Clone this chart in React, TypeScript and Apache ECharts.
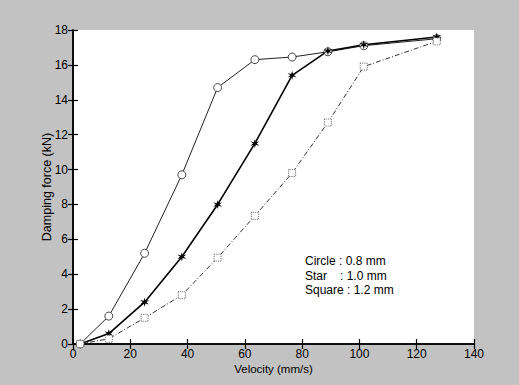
import React, { useEffect, useRef } from "react";
import * as echarts from "echarts";

const velocity = [2.5, 12.5, 25, 38, 50.5, 63.5, 76.5, 89, 101.5, 127];
const circleForce = [0, 1.6, 5.2, 9.7, 14.7, 16.3, 16.45, 16.75, 17.1, 17.5];
const starForce = [0, 0.6, 2.4, 5.0, 8.0, 11.5, 15.4, 16.8, 17.15, 17.6];
const squareForce = [0, 0.3, 1.5, 2.8, 4.95, 7.35, 9.8, 12.7, 15.9, 17.35];
const legendLabels = ["Circle", "Star", "Square"];
const legendValues = [": 0.8 mm", ": 1.0 mm", ": 1.2 mm"];

const FONT = "Liberation Sans";
const starPath =
  "path://M5,0 L6,3.6 L9.8,2.5 L7,5 L9.8,7.5 L6,6.4 L5,10 L4,6.4 L0.2,7.5 L3,5 L0.2,2.5 L4,3.6 Z";

function pairs(ys: number[]) {
  return velocity.map((x, i) => [x, ys[i]]);
}

export default function App() {
  const ref = useRef<HTMLDivElement>(null);
  useEffect(() => {
    const chart = echarts.init(ref.current!, null, { renderer: "svg" });
    const axisCommon = {
      axisLine: { show: true, lineStyle: { color: "#000", width: 1.5 } },
      axisTick: { show: true, inside: true, length: 5, lineStyle: { color: "#000", width: 1.2 } },
      splitLine: { show: false },
    };
    const legendText: any[] = [];
    const valueX = [339, 340];
    legendLabels.forEach((l, i) => {
      const y = 255 + i * 14.5;
      if (i === 2) {
        legendText.push({
          type: "text",
          left: 305,
          top: y,
          style: { text: l + " " + legendValues[i], font: `12px "${FONT}"`, fill: "#000" },
        });
      } else {
        legendText.push({
          type: "text",
          left: 305,
          top: y,
          style: { text: l, font: `12px "${FONT}"`, fill: "#000" },
        });
        legendText.push({
          type: "text",
          left: valueX[i],
          top: y,
          style: { text: legendValues[i], font: `12px "${FONT}"`, fill: "#000" },
        });
      }
    });
    chart.setOption({
      animation: false,
      backgroundColor: "#c2c2c2",
      grid: { left: 73, right: 45, top: 30, bottom: 41, show: true, backgroundColor: "#fff", borderWidth: 0 },
      xAxis: [
        {
          type: "value",
          min: 0,
          max: 140,
          interval: 20,
          name: "Velocity (mm/s)",
          nameLocation: "middle",
          nameGap: 19,
          nameMoveOverlap: false,
          nameTextStyle: { fontFamily: FONT, fontSize: 11.5, color: "#000" },
          axisLabel: { fontFamily: FONT, fontSize: 12, color: "#000", margin: 4 },
          ...axisCommon,
        },
        {
          type: "value",
          min: 0,
          max: 140,
          interval: 20,
          position: "top",
          axisLabel: { show: false },
          ...axisCommon,
        },
      ],
      yAxis: [
        {
          type: "value",
          min: 0,
          max: 18,
          interval: 2,
          name: "Damping force (kN)",
          nameLocation: "middle",
          nameGap: 20,
          nameMoveOverlap: false,
          nameTextStyle: { fontFamily: FONT, fontSize: 12.5, color: "#000" },
          axisLabel: { fontFamily: FONT, fontSize: 12, color: "#000", margin: 5 },
          ...axisCommon,
        },
        {
          type: "value",
          min: 0,
          max: 18,
          interval: 2,
          position: "right",
          axisLabel: { show: false },
          ...axisCommon,
        },
      ],
      series: [
        {
          type: "line",
          data: pairs(circleForce),
          symbol: "circle",
          symbolSize: 8,
          lineStyle: { color: "#222", width: 1 },
          itemStyle: { color: "#fff", borderColor: "#333", borderWidth: 0.9 },
        },
        {
          type: "line",
          data: pairs(starForce),
          symbol: starPath,
          symbolSize: 9,
          lineStyle: { color: "#000", width: 1.6 },
          itemStyle: { color: "#000" },
        },
        {
          type: "line",
          data: pairs(squareForce),
          symbol: "rect",
          symbolSize: 7,
          lineStyle: { color: "#333", width: 1, type: [5, 2, 1, 2] },
          itemStyle: { color: "#fff", borderColor: "#555", borderWidth: 0.9, borderType: "dotted" },
        },
      ],
      graphic: legendText,
    });
    return () => chart.dispose();
  }, []);
  return <div ref={ref} style={{ width: 519, height: 385, position: "absolute", left: 0, top: 0 }} />;
}
